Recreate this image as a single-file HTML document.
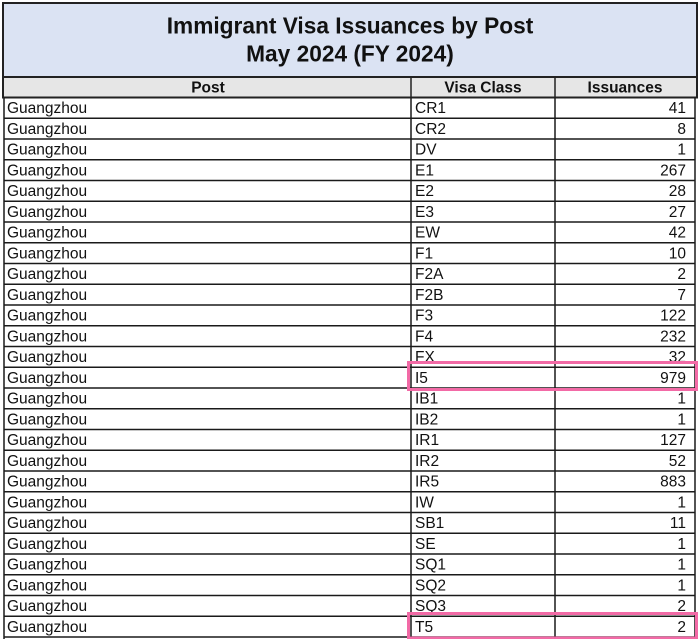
<!DOCTYPE html>
<html><head><meta charset="utf-8"><style>
html,body{margin:0;padding:0;background:#fff;}
svg{display:block;}
text{font-family:"Liberation Sans",Arial,sans-serif;fill:#111;}
.d{font-size:15.5px;}
.h{font-size:15.5px;font-weight:bold;}
.t{font-size:22.7px;font-weight:bold;}
</style></head><body>
<svg width="700" height="639" viewBox="0 0 700 639" xmlns="http://www.w3.org/2000/svg">
<rect x="0" y="0" width="700" height="639" fill="#fff"/>
<!-- title -->
<rect x="3" y="3" width="694" height="74" fill="#dbe3f3" stroke="#222" stroke-width="2"/>
<text class="t" x="350" y="33.5" text-anchor="middle">Immigrant Visa Issuances by Post</text>
<text class="t" x="350" y="61.5" text-anchor="middle">May 2024 (FY 2024)</text>
<!-- header -->
<rect x="3" y="77" width="694" height="20.5" fill="#e6e6e6" stroke="#222" stroke-width="2"/>
<line x1="411" y1="77" x2="411" y2="97.5" stroke="#222" stroke-width="1.5"/>
<line x1="555" y1="77" x2="555" y2="97.5" stroke="#222" stroke-width="1.5"/>
<text class="h" x="208" y="92.5" text-anchor="middle">Post</text>
<text class="h" x="483" y="92.5" text-anchor="middle">Visa Class</text>
<text class="h" x="625" y="92.5" text-anchor="middle">Issuances</text>
<!-- grid -->
<g stroke="#1a1a1a" stroke-width="1.5">
<line x1="4" y1="97.5" x2="4" y2="639"/>
<line x1="411" y1="97.5" x2="411" y2="639"/>
<line x1="555" y1="97.5" x2="555" y2="639"/>
<line x1="695" y1="97.5" x2="695" y2="639"/>
<line x1="4" y1="118.25" x2="695" y2="118.25"/>
<line x1="4" y1="139" x2="695" y2="139"/>
<line x1="4" y1="159.75" x2="695" y2="159.75"/>
<line x1="4" y1="180.5" x2="695" y2="180.5"/>
<line x1="4" y1="201.25" x2="695" y2="201.25"/>
<line x1="4" y1="222" x2="695" y2="222"/>
<line x1="4" y1="242.75" x2="695" y2="242.75"/>
<line x1="4" y1="263.5" x2="695" y2="263.5"/>
<line x1="4" y1="284.25" x2="695" y2="284.25"/>
<line x1="4" y1="305" x2="695" y2="305"/>
<line x1="4" y1="325.75" x2="695" y2="325.75"/>
<line x1="4" y1="346.5" x2="695" y2="346.5"/>
<line x1="4" y1="367.25" x2="695" y2="367.25"/>
<line x1="4" y1="388" x2="695" y2="388"/>
<line x1="4" y1="408.75" x2="695" y2="408.75"/>
<line x1="4" y1="429.5" x2="695" y2="429.5"/>
<line x1="4" y1="450.25" x2="695" y2="450.25"/>
<line x1="4" y1="471" x2="695" y2="471"/>
<line x1="4" y1="491.75" x2="695" y2="491.75"/>
<line x1="4" y1="512.5" x2="695" y2="512.5"/>
<line x1="4" y1="533.25" x2="695" y2="533.25"/>
<line x1="4" y1="554" x2="695" y2="554"/>
<line x1="4" y1="574.75" x2="695" y2="574.75"/>
<line x1="4" y1="595.5" x2="695" y2="595.5"/>
<line x1="4" y1="616.25" x2="695" y2="616.25"/>
<line x1="4" y1="637" x2="695" y2="637"/>
</g>
<!-- data -->
<g class="d">
<text class="d" x="7" y="113">Guangzhou</text><text class="d" x="415" y="113">CR1</text><text class="d" x="686" y="113" text-anchor="end">41</text>
<text class="d" x="7" y="133.75">Guangzhou</text><text class="d" x="415" y="133.75">CR2</text><text class="d" x="686" y="133.75" text-anchor="end">8</text>
<text class="d" x="7" y="154.5">Guangzhou</text><text class="d" x="415" y="154.5">DV</text><text class="d" x="686" y="154.5" text-anchor="end">1</text>
<text class="d" x="7" y="175.25">Guangzhou</text><text class="d" x="415" y="175.25">E1</text><text class="d" x="686" y="175.25" text-anchor="end">267</text>
<text class="d" x="7" y="196">Guangzhou</text><text class="d" x="415" y="196">E2</text><text class="d" x="686" y="196" text-anchor="end">28</text>
<text class="d" x="7" y="216.75">Guangzhou</text><text class="d" x="415" y="216.75">E3</text><text class="d" x="686" y="216.75" text-anchor="end">27</text>
<text class="d" x="7" y="237.5">Guangzhou</text><text class="d" x="415" y="237.5">EW</text><text class="d" x="686" y="237.5" text-anchor="end">42</text>
<text class="d" x="7" y="258.25">Guangzhou</text><text class="d" x="415" y="258.25">F1</text><text class="d" x="686" y="258.25" text-anchor="end">10</text>
<text class="d" x="7" y="279">Guangzhou</text><text class="d" x="415" y="279">F2A</text><text class="d" x="686" y="279" text-anchor="end">2</text>
<text class="d" x="7" y="299.75">Guangzhou</text><text class="d" x="415" y="299.75">F2B</text><text class="d" x="686" y="299.75" text-anchor="end">7</text>
<text class="d" x="7" y="320.5">Guangzhou</text><text class="d" x="415" y="320.5">F3</text><text class="d" x="686" y="320.5" text-anchor="end">122</text>
<text class="d" x="7" y="341.25">Guangzhou</text><text class="d" x="415" y="341.25">F4</text><text class="d" x="686" y="341.25" text-anchor="end">232</text>
<text class="d" x="7" y="362">Guangzhou</text><text class="d" x="415" y="362">FX</text><text class="d" x="686" y="362" text-anchor="end">32</text>
<text class="d" x="7" y="382.75">Guangzhou</text><text class="d" x="415" y="382.75">I5</text><text class="d" x="686" y="382.75" text-anchor="end">979</text>
<text class="d" x="7" y="403.5">Guangzhou</text><text class="d" x="415" y="403.5">IB1</text><text class="d" x="686" y="403.5" text-anchor="end">1</text>
<text class="d" x="7" y="424.25">Guangzhou</text><text class="d" x="415" y="424.25">IB2</text><text class="d" x="686" y="424.25" text-anchor="end">1</text>
<text class="d" x="7" y="445">Guangzhou</text><text class="d" x="415" y="445">IR1</text><text class="d" x="686" y="445" text-anchor="end">127</text>
<text class="d" x="7" y="465.75">Guangzhou</text><text class="d" x="415" y="465.75">IR2</text><text class="d" x="686" y="465.75" text-anchor="end">52</text>
<text class="d" x="7" y="486.5">Guangzhou</text><text class="d" x="415" y="486.5">IR5</text><text class="d" x="686" y="486.5" text-anchor="end">883</text>
<text class="d" x="7" y="507.25">Guangzhou</text><text class="d" x="415" y="507.25">IW</text><text class="d" x="686" y="507.25" text-anchor="end">1</text>
<text class="d" x="7" y="528">Guangzhou</text><text class="d" x="415" y="528">SB1</text><text class="d" x="686" y="528" text-anchor="end">11</text>
<text class="d" x="7" y="548.75">Guangzhou</text><text class="d" x="415" y="548.75">SE</text><text class="d" x="686" y="548.75" text-anchor="end">1</text>
<text class="d" x="7" y="569.5">Guangzhou</text><text class="d" x="415" y="569.5">SQ1</text><text class="d" x="686" y="569.5" text-anchor="end">1</text>
<text class="d" x="7" y="590.25">Guangzhou</text><text class="d" x="415" y="590.25">SQ2</text><text class="d" x="686" y="590.25" text-anchor="end">1</text>
<text class="d" x="7" y="611">Guangzhou</text><text class="d" x="415" y="611">SQ3</text><text class="d" x="686" y="611" text-anchor="end">2</text>
<text class="d" x="7" y="631.75">Guangzhou</text><text class="d" x="415" y="631.75">T5</text><text class="d" x="686" y="631.75" text-anchor="end">2</text>
</g>
<!-- highlights -->
<rect x="408.5" y="362.5" width="288" height="27" fill="none" stroke="#f26aa6" stroke-width="3"/>
<rect x="408.5" y="613.5" width="288" height="24.5" fill="none" stroke="#f26aa6" stroke-width="3"/>
</svg>
</body></html>
